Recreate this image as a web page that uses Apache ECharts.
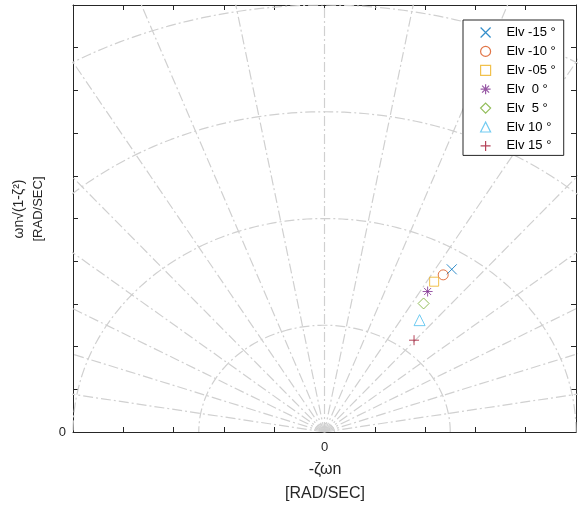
<!DOCTYPE html>
<html><head><meta charset="utf-8">
<script src="https://cdn.jsdelivr.net/npm/echarts@6/dist/echarts.min.js"></script>
<style>html,body{margin:0;padding:0;background:#fff}#c{width:579px;height:507px}</style>
</head><body><div id="c"></div>
<script>
// ---- data ----
const seriesNames = ['Elv -15 °', 'Elv -10 °', 'Elv -05 °', 'Elv  0 °', 'Elv  5 °', 'Elv 10 °', 'Elv 15 °'];
const xValues = [2.53, 2.36, 2.18, 2.05, 1.97, 1.89, 1.78];   // -zeta*wn
const yValues = [3.81, 3.68, 3.52, 3.29, 3.01, 2.62, 2.15];   // wn*sqrt(1-zeta^2)
const colors = ['#0072BD', '#D95319', '#EDB120', '#7E2F8E', '#77AC30', '#4DBEEE', '#A2142F'];
const symbols = [
  'path://M0,0L10,10M10,0L0,10',
  'circle',
  'rect',
  'path://M5,0L5,10M0,5L10,5M1.5,1.5L8.5,8.5M8.5,1.5L1.5,8.5',
  'diamond',
  'triangle',
  'path://M5,0L5,10M0,5L10,5'
];
const symbolSizes = [10, 10, 9, 10, 11, 11, 10];
const xTickLabelValues = [0];
const yTickLabelValues = [0];
// s-plane grid: natural-frequency circles and constant-damping rays
const gridRadii = [0.2, 2.5, 5, 7.5, 10, 12.5];
const gridAngles = [10, 20, 30, 40, 50, 60, 70, 80, 90, 100, 110, 120, 130, 140, 150, 160, 170];
const rayLength = 14;

const gridLine = {color: '#d0d0d0', width: 1.2, type: [10, 3, 2, 3]};
const series = [];
gridRadii.forEach(r => {
  const pts = [];
  for (let a = 0; a <= 180; a += 1) {
    const t = a * Math.PI / 180;
    pts.push([r * Math.cos(t), r * Math.sin(t)]);
  }
  series.push({type: 'line', data: pts, showSymbol: false, silent: true, z: 1,
    lineStyle: gridLine, clip: true, animation: false});
});
gridAngles.forEach(a => {
  const t = a * Math.PI / 180;
  series.push({type: 'line', data: [[0, 0], [rayLength * Math.cos(t), rayLength * Math.sin(t)]],
    showSymbol: false, silent: true, z: 1, lineStyle: gridLine, clip: true, animation: false});
});
seriesNames.forEach((n, i) => {
  series.push({type: 'scatter', name: n, data: [[xValues[i], yValues[i]]],
    symbol: symbols[i], symbolSize: symbolSizes[i], z: 5, animation: false,
    itemStyle: {color: 'rgba(0,0,0,0)', borderColor: colors[i], borderWidth: 1}});
});

const axisCol = '#262626';
const font = '"Liberation Sans", Arial, sans-serif';
function axisBase(extra) {
  return Object.assign({
    type: 'value',
    axisLine: {show: true, onZero: false, lineStyle: {color: axisCol, width: 1}},
    axisTick: {show: true, inside: true, length: 5, lineStyle: {color: axisCol}},
    splitLine: {show: false}
  }, extra);
}
const option = {
  backgroundColor: '#fff',
  animation: false,
  grid: {left: 73, right: 1, top: 5, bottom: 75},
  xAxis: [
    axisBase({min: -5, max: 5, interval: 1, position: 'bottom',
      axisLabel: {formatter: v => xTickLabelValues.includes(v) ? String(v) : '', color: axisCol, fontSize: 13, fontFamily: font, margin: 9}}),
    axisBase({min: -5, max: 5, interval: 1, position: 'top', axisLabel: {show: false}})
  ],
  yAxis: [
    axisBase({min: 0, max: 10, interval: 1, position: 'left',
      axisLabel: {formatter: v => yTickLabelValues.includes(v) ? String(v) : '', color: axisCol, fontSize: 13, fontFamily: font, margin: 7}}),
    axisBase({min: 0, max: 10, interval: 1, position: 'right', axisLabel: {show: false}})
  ],
  legend: {
    orient: 'vertical', left: 463, top: 20,
    padding: [6, 8, 3, 17],
    itemWidth: 10, itemHeight: 10, itemGap: 5.9,
    backgroundColor: '#fff', borderColor: axisCol, borderWidth: 1, borderRadius: 0,
    data: seriesNames.map((n, i) => ({name: n, icon: symbols[i],
      itemStyle: {color: 'rgba(0,0,0,0)', borderColor: colors[i], borderWidth: 1.2}})),
    formatter: n => '   ' + n,
    textStyle: {fontSize: 13, fontFamily: font, color: '#000', lineHeight: 12}
  },
  graphic: [
    {type: 'text', x: 325, y: 470, z: 10, style: {text: '-ζωn', align: 'center', verticalAlign: 'middle', font: '16px ' + font, fill: axisCol}},
    {type: 'text', x: 325, y: 494, z: 10, style: {text: '[RAD/SEC]', align: 'center', verticalAlign: 'middle', font: '16px ' + font, fill: axisCol}},
    {type: 'text', x: 19, y: 209, rotation: Math.PI / 2, z: 10, style: {text: 'ωn√(1-ζ²)', align: 'center', verticalAlign: 'middle', font: '14px ' + font, fill: axisCol}},
    {type: 'text', x: 38, y: 209, rotation: Math.PI / 2, z: 10, style: {text: '[RAD/SEC]', align: 'center', verticalAlign: 'middle', font: '13px ' + font, fill: axisCol}}
  ],
  series: series
};
const chart = echarts.init(document.getElementById('c'), null, {renderer: 'canvas'});
chart.setOption(option);
</script></body></html>
